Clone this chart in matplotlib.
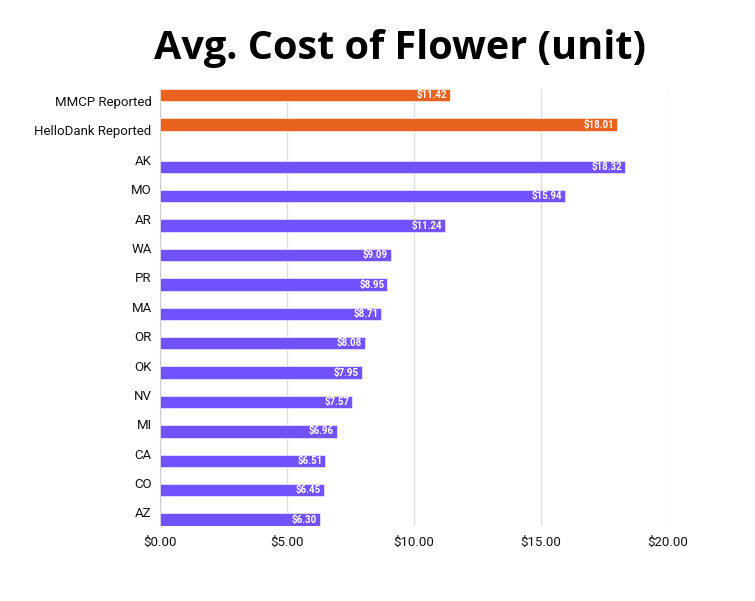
import matplotlib
matplotlib.use('Agg')
import matplotlib.pyplot as plt
import numpy as np

categories = ['MMCP Reported', 'HelloDank Reported', 'AK', 'MO', 'AR', 'WA', 'PR',
              'MA', 'OR', 'OK', 'NV', 'MI', 'CA', 'CO', 'AZ']
reported = [11.42, 18.01, 0, 0, 0, 0, 0, 0, 0, 0, 0, 0, 0, 0, 0]
states = [0, 0, 18.32, 15.94, 11.24, 9.09, 8.95, 8.71, 8.08, 7.95, 7.57, 6.96, 6.51, 6.45, 6.30]
x_ticks = [0, 5, 10, 15, 20]

ORANGE = '#e8631f'
PURPLE = '#7251fe'

plt.rcParams['font.family'] = ['Roboto', 'DejaVu Sans']

fig = plt.figure(figsize=(7.55, 6.01), dpi=100)
ax = fig.add_axes([160 / 755, 1 - 526 / 601, 508 / 755, (526 - 89) / 601])

y = np.arange(len(categories))
h = 0.42
for vals, off, color in [(reported, -0.2, ORANGE), (states, 0.24, PURPLE)]:
    for yi, v in zip(y, vals):
        if v <= 0:
            continue
        ax.barh(yi + off, v, height=h, color=color, edgecolor='white', linewidth=0.4, zorder=3)
        ax.text(v - 0.12, yi + off, f'${v:.2f}', ha='right', va='center',
                color='white', fontsize=7, fontweight='bold', zorder=4)

ax.set_ylim(14.46, -0.41)
ax.set_xlim(0, 20)
ax.set_yticks(y)
ax.set_yticklabels(categories, fontsize=9.5, color='#111111')
ax.set_xticks(x_ticks)
ax.set_xticklabels([f'${t:.2f}' for t in x_ticks], fontsize=9.5, color='#111111')
ax.tick_params(axis='both', length=0, pad=6)
ax.tick_params(axis='x', pad=7)
ax.xaxis.grid(True, color='#dddddd', linewidth=1, zorder=0)
ax.yaxis.grid(False)
for s in ['top', 'right', 'bottom']:
    ax.spines[s].set_visible(False)
ax.spines['left'].set_color('#cccccc')

fig.text(400 / 755, 1 - 49 / 601, 'Avg. Cost of Flower (unit)', ha='center', va='center',
         fontsize=28.5, fontweight='bold', family=['Open Sans', 'DejaVu Sans'])

fig.savefig('out.png', dpi=100)
